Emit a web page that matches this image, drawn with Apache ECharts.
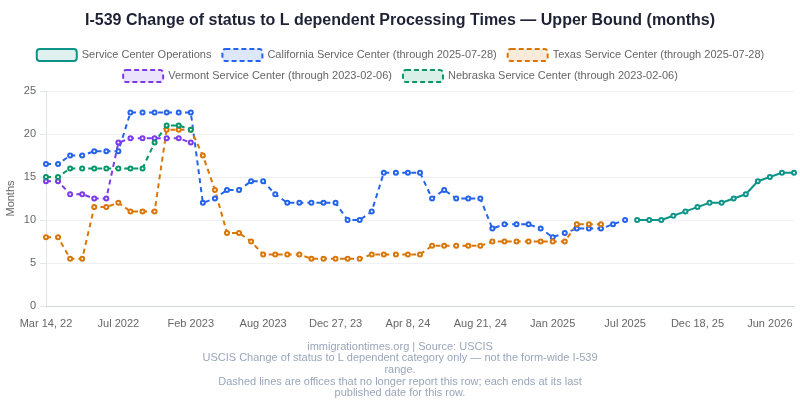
<!DOCTYPE html>
<html>
<head>
<meta charset="utf-8">
<script src="https://cdn.jsdelivr.net/npm/echarts@6/dist/echarts.min.js"></script>
<style>
html,body{margin:0;padding:0;background:#fff;}
#chart{width:800px;height:400px;}
</style>
</head>
<body>
<div id="chart"></div>
<script>
// Categories (report dates); only every 6th label is shown on the axis
var categories = [
  "Mar 14, 22","2022-04-05","2022-04-26","2022-05-17","2022-06-07","2022-06-28",
  "Jul 2022","2022-08-15","2022-09-12","2022-10-10","2022-11-14","2022-12-12",
  "Feb 2023","2023-03-06","2023-04-03","2023-05-01","2023-06-05","2023-07-03",
  "Aug 2023","2023-08-28","2023-09-25","2023-10-23","2023-11-13","2023-12-04",
  "Dec 27, 23","2024-01-17","2024-02-07","2024-02-28","2024-03-18","2024-03-27",
  "Apr 8, 24","2024-05-01","2024-05-24","2024-06-17","2024-07-10","2024-08-01",
  "Aug 21, 24","2024-09-17","2024-10-14","2024-11-08","2024-12-03","2024-12-24",
  "Jan 2025","2025-02-10","2025-03-10","2025-04-07","2025-05-05","2025-06-02",
  "Jul 2025","2025-08-25","2025-09-22","2025-10-20","2025-11-17","2025-12-01",
  "Dec 18, 25","2026-01-15","2026-02-12","2026-03-12","2026-04-09","2026-05-07",
  "Jun 2026","2026-06-30","2026-07-28"
];

var serviceCenterOps = [10,10,10,10.5,11,11.5,12,12,12.5,13,14.5,15,15.5,15.5]; // starts at index 49
var california = [16.5,16.5,17.5,17.5,18,18,18,22.5,22.5,22.5,22.5,22.5,22.5,12,12.5,13.5,13.5,14.5,14.5,13,12,12,12,12,12,10,10,11,15.5,15.5,15.5,15.5,12.5,13.5,12.5,12.5,12.5,9,9.5,9.5,9.5,9,8,8.5,9,9,9,9.5,10];
var texas = [8,8,5.5,5.5,11.5,11.5,12,11,11,11,20.5,20.5,20.5,17.5,13.5,8.5,8.5,7.5,6,6,6,6,5.5,5.5,5.5,5.5,5.5,6,6,6,6,6,7,7,7,7,7,7.5,7.5,7.5,7.5,7.5,7.5,7.5,9.5,9.5,9.5];
var vermont = [14.5,14.5,13,13,12.5,12.5,19,19.5,19.5,19.5,19.5,19.5,19];
var nebraska = [15,15,16,16,16,16,16,16,16,19,21,21,20.5];
var scoStartIndex = 49;

var yTicks = {min:0, max:25, interval:5};

var footerLines = [
  "immigrationtimes.org | Source: USCIS",
  "USCIS Change of status to L dependent category only \u2014 not the form-wide I-539",
  "range.",
  "Dashed lines are offices that no longer report this row; each ends at its last",
  "published date for this row."
];

function pad(arr, start){
  var out = [];
  for (var i=0;i<categories.length;i++){
    var j = i - start;
    out.push(j>=0 && j<arr.length ? arr[j] : null);
  }
  return out;
}

var names = [
  "Service Center Operations",
  "California Service Center (through 2025-07-28)",
  "Texas Service Center (through 2025-07-28)",
  "Vermont Service Center (through 2023-02-06)",
  "Nebraska Service Center (through 2023-02-06)"
];
var colors = ["#0d9488","#2563eb","#d97706","#7c3aed","#059669"];
var lightColors = ["#dff1ef","#dde7fb","#f9ebd9","#ebe2fb","#d9efe7"];
var dataSets = [pad(serviceCenterOps, scoStartIndex), pad(california,0), pad(texas,0), pad(vermont,0), pad(nebraska,0)];
var dashed = [false,true,true,true,true];
var FONT = 'Liberation Sans, Arial, sans-serif';

var series = names.map(function(n,i){
  return {
    name:n, type:'line', data:dataSets[i],
    symbol:'emptyCircle', symbolSize:4, showSymbol:true,
    lineStyle:{color:colors[i], width:2, type: dashed[i] ? [5,4] : 'solid'},
    itemStyle:{color:colors[i], borderWidth:2.6},
    z: 2
  };
});

function legendData(idxs){
  return idxs.map(function(i){
    return {name:names[i], itemStyle:{color:lightColors[i], borderColor:colors[i], borderWidth:2, borderType: dashed[i]?[5,3]:'solid'}};
  });
}
var legendBase = {
  left:'center', itemWidth:40, itemHeight:12, itemGap:10, icon:'roundRect',
  textStyle:{fontFamily:FONT, fontSize:11, color:'#666', lineHeight:11}
};

var chart = echarts.init(document.getElementById('chart'));
chart.setOption({
  animation:false,
  color:colors,
  title:{
    text:"I-539 Change of status to L dependent Processing Times \u2014 Upper Bound (months)",
    left:'center', top:8,
    textStyle:{fontFamily:FONT, fontSize:16, fontWeight:'bold', color:'#1e2235'}
  },
  graphic:footerLines.map(function(t,k){
    return {
      type:'text', left:'center', top:341 + k*11.7,
      style:{text:t, fill:'#9aa6ba', font:'11px ' + FONT}
    };
  }),
  legend:[
    Object.assign({}, legendBase, {top:43, data:legendData([0,1,2])}),
    Object.assign({}, legendBase, {top:64, data:legendData([3,4])})
  ],
  grid:{left:46, right:6, top:91, bottom:94, containLabel:false, outerBoundsMode:'none'},
  xAxis:{
    type:'category', data:categories, boundaryGap:false,
    axisLine:{lineStyle:{color:'#d0d4dc'}},
    axisTick:{show:false},
    axisLabel:{interval:5, color:'#666', fontSize:11, margin:12, fontFamily:FONT},
    splitLine:{show:false}
  },
  yAxis:{
    type:'value', min:yTicks.min, max:yTicks.max, interval:yTicks.interval,
    name:'Months', nameLocation:'middle', nameGap:30, nameMoveOverlap:false,
    nameTextStyle:{color:'#666', fontSize:11, fontFamily:FONT, padding:[0,0,0,0]},
    axisLine:{show:true, lineStyle:{color:'#e2e5ea'}},
    axisTick:{show:true, length:6, lineStyle:{color:'#e2e5ea'}},
    axisLabel:{color:'#666', fontSize:11, margin:10, fontFamily:FONT},
    splitLine:{lineStyle:{color:'#eef0f3'}}
  },
  series:series
});
</script>
</body>
</html>
